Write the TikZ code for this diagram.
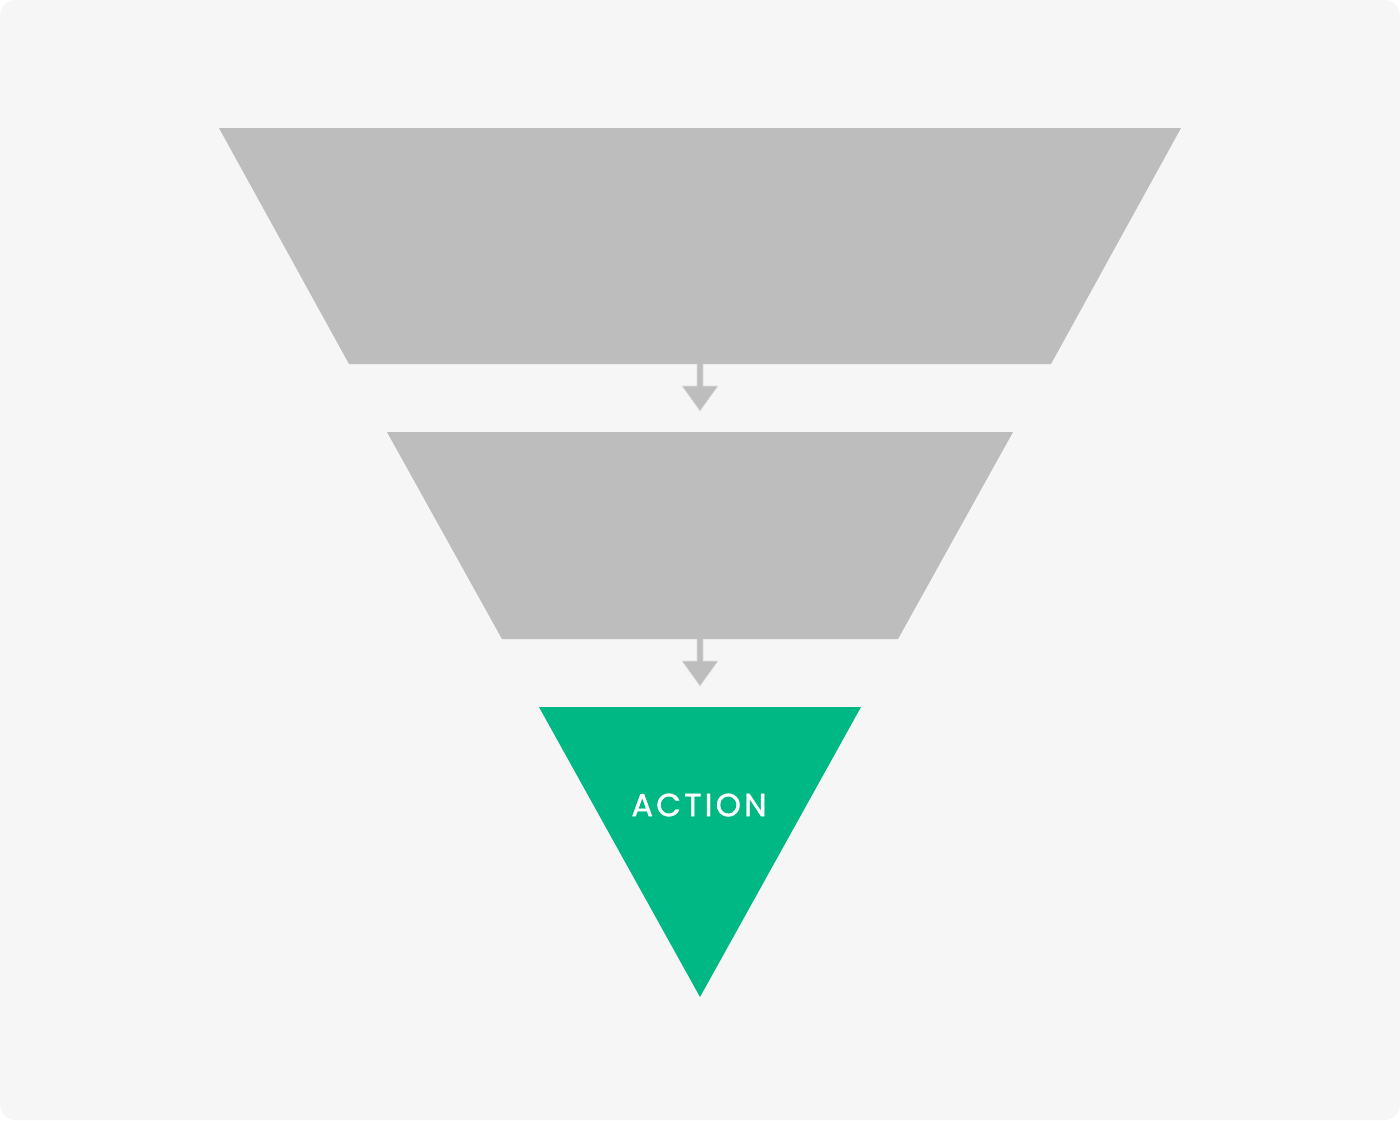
\documentclass[tikz,border=0pt]{standalone}
\usepackage{fontspec}
\newfontfamily\labelfont[LetterSpace=10,FakeBold=1.2]{Poppins}
\definecolor{bgc}{HTML}{F6F6F6}
\definecolor{stagegray}{HTML}{BDBDBD}
\definecolor{actiongreen}{HTML}{00B884}
\tikzset{
  stage/.style={fill=stagegray, draw=none},
  action/.style={fill=actiongreen, draw=none},
  flowarrow/.style={fill=stagegray, draw=bgc!60!stagegray, line width=0.6pt},
  labeltext/.style={text=white, font=\labelfont\fontsize{32}{32}\selectfont, inner sep=0pt}
}
\begin{document}
\begin{tikzpicture}[x=1pt,y=-1pt]
\useasboundingbox (0,0) rectangle (1400,1120);
\fill[white] (0,0) rectangle (1400,1120);
\fill[bgc, rounded corners=16pt] (0,0) rectangle (1400,1120);
% stage 1
\coordinate (s1tl) at (219,128);
\coordinate (s1tr) at (1181,128);
\coordinate (s1br) at (1051,364);
\coordinate (s1bl) at (349,364);
\fill[stage] (s1tl) -- (s1tr) -- (s1br) -- (s1bl) -- cycle;
% stage 2
\coordinate (s2tl) at (387,432);
\coordinate (s2tr) at (1013,432);
\coordinate (s2br) at (898,639);
\coordinate (s2bl) at (502,639);
\fill[stage] (s2tl) -- (s2tr) -- (s2br) -- (s2bl) -- cycle;
% action
\coordinate (s3tl) at (539,707);
\coordinate (s3tr) at (861,707);
\coordinate (s3tip) at (700,997);
\fill[action] (s3tl) -- (s3tr) -- (s3tip) -- cycle;
\node[labeltext] (actionlabel) at (699,805) {ACTION};
% arrows
\coordinate (a1) at (700,364);
\draw[flowarrow] (697,364) -- (697,386) -- (682,386) -- (700,411) -- (718,386) -- (703,386) -- (703,364);
\coordinate (a2) at (700,639);
\draw[flowarrow] (697,639) -- (697,661) -- (682,661) -- (700,686) -- (718,661) -- (703,661) -- (703,639);
\end{tikzpicture}
\end{document}
